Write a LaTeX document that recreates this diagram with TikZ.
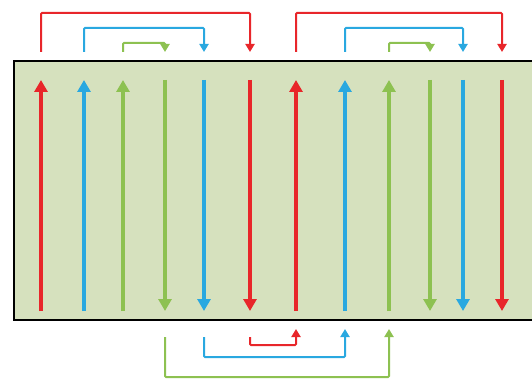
\documentclass[tikz,border=0pt]{standalone}
\usetikzlibrary{arrows.meta}
\definecolor{cred}{HTML}{E8262A}
\definecolor{cblue}{HTML}{29A8E0}
\definecolor{cgreen}{HTML}{8DC151}
\definecolor{cbg}{HTML}{D6E1BE}
\tikzset{
  inner/.style={line width=4.4pt,-{Triangle[width=13pt,length=12pt]}},
  loop/.style={line width=2pt,rounded corners=1pt,-{Triangle[width=9pt,length=8pt]}},
}
\begin{document}
\begin{tikzpicture}[x=1pt,y=-1pt]
\useasboundingbox (0,0) rectangle (532,379);
\clip (0,0) rectangle (532,379);
\fill[white] (0,0) rectangle (532,379);
\draw[fill=cbg,line width=2.4pt] (14,61) rectangle (560,320);
% inner arrow coordinates
\foreach \n/\x in {a/41,b/84,c/123,d/165,e/204,f/250,g/296,h/345,i/389,j/430,k/463,l/502}{
  \coordinate (\n t) at (\x,80);
  \coordinate (\n b) at (\x,311);
  \coordinate (\n u) at (\x,52);
  \coordinate (\n d) at (\x,337);
  \coordinate (\n w) at (\x,329);
}
% upward inner arrows
\draw[inner,cred] (ab) -- (at);
\draw[inner,cblue] (bb) -- (bt);
\draw[inner,cgreen] (cb) -- (ct);
\draw[inner,cred] (gb) -- (gt);
\draw[inner,cblue] (hb) -- (ht);
\draw[inner,cgreen] (ib) -- (it);
% downward inner arrows
\draw[inner,cgreen] (dt) -- (db);
\draw[inner,cblue] (et) -- (eb);
\draw[inner,cred] (ft) -- (fb);
\draw[inner,cgreen] (jt) -- (jb);
\draw[inner,cblue] (kt) -- (kb);
\draw[inner,cred] (lt) -- (lb);
% top loops
\draw[loop,cred] (au) -- ++(0,-39) -| (fu);
\draw[loop,cblue] (bu) -- ++(0,-24) -| (eu);
\draw[loop,cgreen] (cu) -- ++(0,-9) -| (du);
\draw[loop,cred] (gu) -- ++(0,-39) -| (lu);
\draw[loop,cblue] (hu) -- ++(0,-24) -| (ku);
\draw[loop,cgreen] (iu) -- ++(0,-9) -| (ju);
% bottom loops
\draw[loop,cgreen] (dd) -- ++(0,40) -| (iw);
\draw[loop,cblue] (ed) -- ++(0,20) -| (hw);
\draw[loop,cred] (fd) -- ++(0,8) -| (gw);
\end{tikzpicture}
\end{document}
